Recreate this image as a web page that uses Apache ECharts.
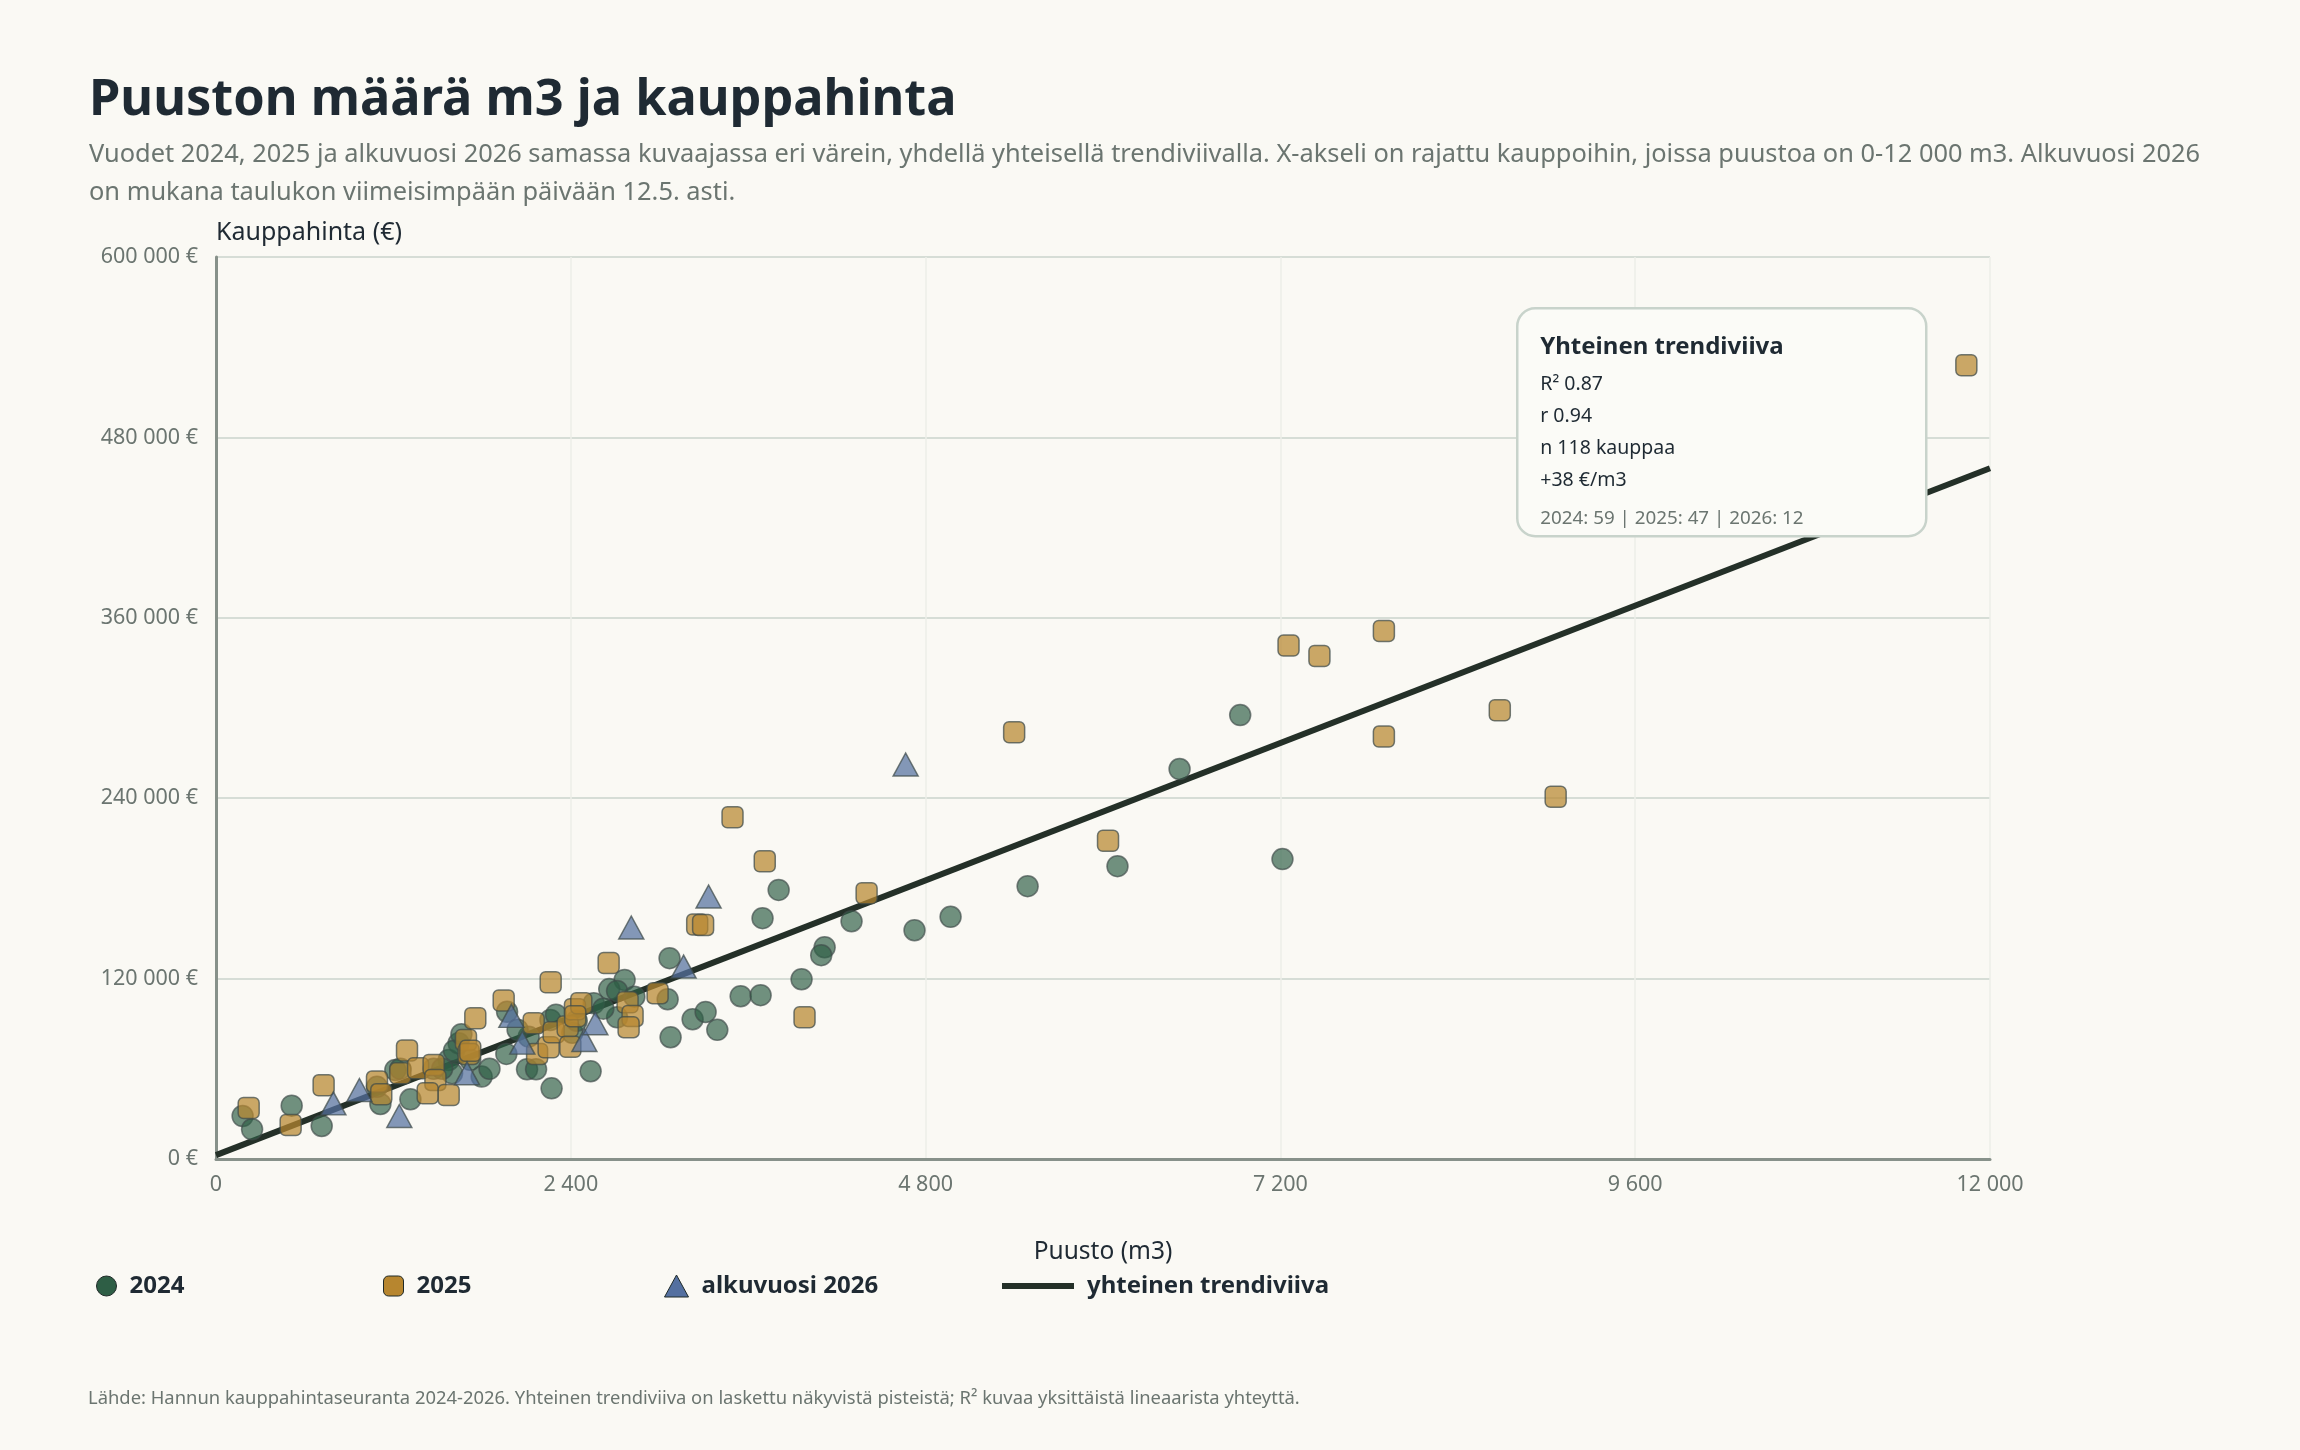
<!DOCTYPE html>
<html>
<head>
<meta charset="utf-8">
<title>Puuston määrä m3 ja kauppahinta</title>
<script src="https://cdn.jsdelivr.net/npm/echarts@6/dist/echarts.min.js"></script>
<style>
  html, body { margin: 0; padding: 0; background: #faf9f4; }
  #chart { width: 2300px; height: 1450px; }
</style>
</head>
<body>
<div id="chart"></div>
<script>
// puusto (m3) ja kauppahinta (€) vuosittain, luettu kuvasta
const puusto2024 = [180, 244, 512, 715, 1112, 1315, 1213, 1574, 1641, 1597, 1797, 1969, 2115, 1964, 2104,
  2165, 2270, 2262, 2555, 2534, 2764, 2660, 2713, 2713, 3068, 3055, 3075, 3224, 3312, 3391,
  3549, 3684, 3697, 3806, 3961, 4117, 4094, 4299, 4725, 4969, 5490, 6098, 6518, 6928, 7214,
  1089, 1247, 1472, 1530, 1610, 1660, 1720, 2040, 2300, 2410, 2620, 2440, 2830, 1850];
const hinta2024 = [28600, 19800, 35500, 22000, 36600, 39700, 59200, 65900, 77000, 57000, 54800, 98000, 81400, 69900, 59700,
  59700, 47000, 92500, 103600, 58400, 119100, 113000, 111800, 94300, 133600, 106300, 81000, 93000, 97800, 85900,
  108300, 109000, 160200, 179000, 119600, 140900, 135600, 158200, 152200, 161100, 181500, 194800, 259400, 295300, 199500,
  48000, 60000, 60000, 60000, 72000, 83000, 66000, 86000, 96000, 84000, 100000, 92000, 108000, 60000];

const puusto2025 = [221, 505, 728, 1089, 1118, 1247, 1292, 1367, 1472, 1484, 1432, 1574, 1691, 1754, 1709,
  1946, 2149, 2172, 2250, 2284, 2264, 2379, 2397, 2428, 2471, 2656, 2784, 2818, 2791, 2987,
  3255, 3295, 3494, 3712, 3981, 4401, 5399, 6034, 7255, 7464, 7900, 7900, 8684, 9062, 11840,
  1720, 2430];
const hinta2025 = [33900, 22600, 49000, 51500, 43000, 57000, 72100, 60400, 62600, 52600, 43700, 42600, 79200, 93600, 69900,
  105400, 90300, 69900, 74300, 84300, 117600, 88100, 74700, 99600, 103600, 130300, 104300, 95200, 87700, 110300,
  156000, 155700, 227300, 198000, 94300, 176800, 283900, 211700, 341500, 334600, 351200, 281000, 298500, 241000, 528000,
  72000, 95000];

const puusto2026 = [794, 970, 1240, 1698, 1998, 2072, 2492, 2566, 2809, 3163, 3332, 4665];
const hinta2026 = [37000, 45900, 28600, 57000, 95200, 77400, 79200, 90300, 154000, 128000, 174600, 262400];

// yhteinen trendiviiva, päätepisteet luettu kuvasta
const trendX = [0, 12000];
const trendY = [2600, 459500];

const xTicks = [0, 2400, 4800, 7200, 9600, 12000];
const yTicks = [0, 120000, 240000, 360000, 480000, 600000];

const statLines = ['R² 0.87', 'r 0.94', 'n 118 kauppaa', '+38 €/m3'];
const yearCounts = '2024: 59 | 2025: 47 | 2026: 12';

const FONT = '"Noto Sans", "Open Sans", sans-serif';
const zip = (xs, ys) => xs.map((x, i) => [x, ys[i]]);
const fmt = v => String(v).replace(/\B(?=(\d{3})+(?!\d))/g, ' ');

const chart = echarts.init(document.getElementById('chart'));

const legendBase = {
  orient: 'horizontal',
  top: 1269,
  itemGap: 0,
  textStyle: { fontFamily: FONT, fontSize: 24, fontWeight: 'bold', color: '#1f2a33', padding: [0, 0, 0, 8] },
  selectedMode: false
};

const option = {
  backgroundColor: '#faf9f4',
  animation: false,
  textStyle: { fontFamily: FONT },
  title: {
    left: 84,
    top: 70,
    text: 'Puuston määrä m3 ja kauppahinta',
    textStyle: { fontFamily: FONT, fontSize: 50.5, fontWeight: 'bold', color: '#1f2a33' },
    subtext: 'Vuodet 2024, 2025 ja alkuvuosi 2026 samassa kuvaajassa eri värein, yhdellä yhteisellä trendiviivalla. X-akseli on rajattu kauppoihin, joissa puustoa on 0-12 000 m3. Alkuvuosi 2026\non mukana taulukon viimeisimpään päivään 12.5. asti.',
    subtextStyle: { fontFamily: FONT, fontSize: 25.4, lineHeight: 38, color: '#6b7570' },
    itemGap: 10
  },
  grid: { left: 216, right: 310, top: 257, bottom: 291 },
  xAxis: {
    type: 'value',
    min: xTicks[0],
    max: xTicks[xTicks.length - 1],
    interval: 2400,
    name: 'Puusto (m3)',
    nameLocation: 'middle',
    nameGap: 81,
    nameTextStyle: { fontFamily: FONT, fontSize: 24.5, color: '#1f2a33' },
    axisLine: { show: true, lineStyle: { color: '#87918a', width: 3 } },
    axisTick: { show: false },
    axisLabel: { fontFamily: FONT, fontSize: 21.5, color: '#6b7570', margin: 15, formatter: v => fmt(v) },
    splitLine: { show: true, lineStyle: { color: '#eceee8', width: 1.5 } }
  },
  yAxis: {
    type: 'value',
    min: yTicks[0],
    max: yTicks[yTicks.length - 1],
    interval: 120000,
    name: 'Kauppahinta (€)',
    nameLocation: 'end',
    nameGap: 12,
    nameTextStyle: { fontFamily: FONT, fontSize: 25, color: '#1f2a33', align: 'left', verticalAlign: 'bottom' },
    axisLine: { show: true, lineStyle: { color: '#87918a', width: 3 } },
    axisTick: { show: false },
    axisLabel: { fontFamily: FONT, fontSize: 21.5, color: '#6b7570', margin: 18, formatter: v => fmt(v) + ' €' },
    splitLine: { show: true, lineStyle: { color: '#d6ddd6', width: 2 } }
  },
  legend: [
    Object.assign({}, legendBase, { left: 91, data: [{ name: '2024', icon: 'circle' }], itemWidth: 20, itemHeight: 20,
      itemStyle: { color: '#2e5e45', borderColor: '#1f2a28', borderWidth: 1, opacity: 1 } }),
    Object.assign({}, legendBase, { left: 378, data: [{ name: '2025', icon: 'roundRect' }], itemWidth: 20, itemHeight: 20,
      itemStyle: { color: '#b7862f', borderColor: '#1f2a28', borderWidth: 1, opacity: 1 } }),
    Object.assign({}, legendBase, { left: 659, data: [{ name: 'alkuvuosi 2026', icon: 'triangle' }], itemWidth: 24, itemHeight: 22,
      itemStyle: { color: '#5470a0', borderColor: '#1f2a28', borderWidth: 1, opacity: 1 } }),
    Object.assign({}, legendBase, { left: 994, data: [{ name: 'yhteinen trendiviiva' }], itemWidth: 72, itemHeight: 20,
      lineStyle: { color: '#243028', width: 6 }, itemStyle: { opacity: 0 } })
  ],
  series: [
    {
      name: '2024',
      type: 'scatter',
      symbol: 'circle',
      symbolSize: 21,
      data: zip(puusto2024, hinta2024),
      itemStyle: { color: '#2e5e45', borderColor: '#3f4b49', borderWidth: 1.5, opacity: 0.68 },
      z: 3
    },
    {
      name: '2025',
      type: 'scatter',
      symbol: 'roundRect',
      symbolSize: 21,
      data: zip(puusto2025, hinta2025),
      itemStyle: { color: '#b7862f', borderColor: '#3f4b49', borderWidth: 1.5, opacity: 0.72 },
      z: 4
    },
    {
      name: 'alkuvuosi 2026',
      type: 'scatter',
      symbol: 'triangle',
      symbolSize: [25, 23],
      data: zip(puusto2026, hinta2026),
      itemStyle: { color: '#5470a0', borderColor: '#3f4b49', borderWidth: 1.5, opacity: 0.72 },
      z: 5
    },
    {
      name: 'yhteinen trendiviiva',
      type: 'line',
      data: zip(trendX, trendY),
      showSymbol: false,
      symbol: 'none',
      lineStyle: { color: '#243028', width: 6 },
      itemStyle: { color: '#243028' },
      z: 2
    }
  ],
  graphic: [
    {
      type: 'group',
      left: 1516,
      top: 307,
      z: 100,
      children: [
        { type: 'rect', z: 100, shape: { x: 0, y: 0, width: 409, height: 228, r: 18 },
          style: { fill: '#fbfbf7', stroke: '#c8d3cb', lineWidth: 2.5 } },
        { type: 'text', z: 101, x: 23, y: 39, style: { text: 'Yhteinen trendiviiva', font: 'bold 24px ' + FONT, fill: '#1f2a33', verticalAlign: 'middle' } },
        ...statLines.map((s, i) => ({ type: 'text', z: 101, x: 23, y: 76 + i * 32,
          style: { text: s, font: '19.5px ' + FONT, fill: '#1f2a33', verticalAlign: 'middle' } })),
        { type: 'text', z: 101, x: 23, y: 210, style: { text: yearCounts, font: '18.8px ' + FONT, fill: '#6b7570', verticalAlign: 'middle' } }
      ]
    },
    {
      type: 'text',
      left: 88,
      top: 1390,
      style: { text: 'Lähde: Hannun kauppahintaseuranta 2024-2026. Yhteinen trendiviiva on laskettu näkyvistä pisteistä; R² kuvaa yksittäistä lineaarista yhteyttä.',
        font: '18.4px ' + FONT, fill: '#6b7570' }
    }
  ]
};

chart.setOption(option);
</script>
</body>
</html>
